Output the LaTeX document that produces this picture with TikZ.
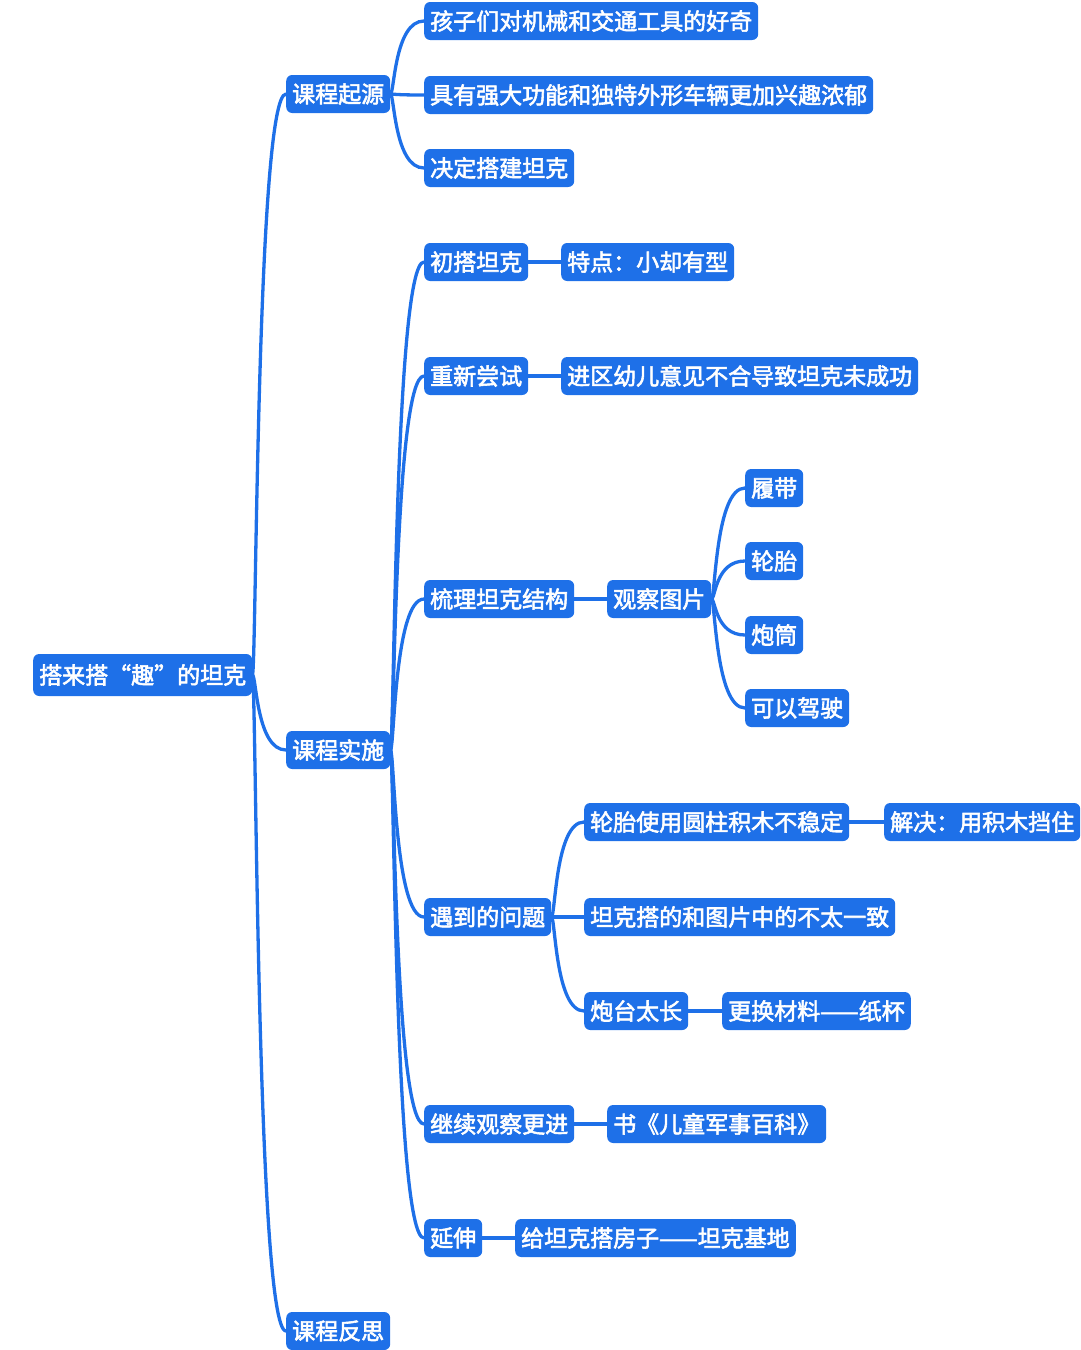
\documentclass[tikz,border=0pt]{standalone}
\usepackage{fontspec}
\usetikzlibrary{calc}
\newfontfamily\cjk[FakeBold=2.5]{Noto Sans CJK SC}
\definecolor{mapblue}{RGB}{30,112,232}
\tikzset{
  topic/.style={fill=mapblue, text=white, rounded corners=6pt, anchor=west,
    minimum height=38pt, inner xsep=6pt, inner ysep=0pt,
    font=\cjk\fontsize{23}{27}\selectfont},
  central/.style={topic, minimum height=42pt},
  link/.style={draw=mapblue, line width=3.3pt, line cap=round}
}
% curved connector from the right side of a parent to the left side of a child
\newcommand*{\branch}[2]{\draw[link] (#1.east) .. controls ($(#1.east)+(4pt,0)$)
  and ($(#1.east |- #2.west)+(4pt,0)$) .. (#2.west);}

\begin{document}
\begin{tikzpicture}[x=1pt,y=-1pt]
\useasboundingbox (0,0) rectangle (1080,1350);
% Central topic
\node[central] (tank) at (33,675) {搭来搭“趣”的坦克};
% Main branches
\node[topic] (origin) at (286,94) {课程起源};
\node[topic] (practice) at (286,750) {课程实施};
\node[topic] (reflect) at (286,1331) {课程反思};
% Origin of the course
\node[topic] (curious) at (424,21) {孩子们对机械和交通工具的好奇};
\node[topic] (power) at (424,95) {具有强大功能和独特外形车辆更加兴趣浓郁};
\node[topic] (decide) at (424,168) {决定搭建坦克};
% Steps of the course
\node[topic] (first) at (424,262) {初搭坦克};
\node[topic] (firstnote) at (561,262) {特点：小却有型};
\node[topic] (retry) at (424,376) {重新尝试};
\node[topic] (retrynote) at (561,376) {进区幼儿意见不合导致坦克未成功};
\node[topic] (structure) at (424,599) {梳理坦克结构};
\node[topic] (observe) at (607,599) {观察图片};
\node[topic] (track) at (745,488) {履带};
\node[topic] (tyre) at (745,561) {轮胎};
\node[topic] (barrel) at (745,635) {炮筒};
\node[topic] (drive) at (745,708) {可以驾驶};
\node[topic] (problem) at (424,917) {遇到的问题};
\node[topic] (wheel) at (584,822) {轮胎使用圆柱积木不稳定};
\node[topic] (wheelfix) at (884,822) {解决：用积木挡住};
\node[topic] (differ) at (584,917) {坦克搭的和图片中的不太一致};
\node[topic] (turret) at (584,1011) {炮台太长};
\node[topic] (cup) at (722,1011) {更换材料——纸杯};
\node[topic] (further) at (424,1124) {继续观察更进};
\node[topic] (book) at (607,1124) {书《儿童军事百科》};
\node[topic] (extend) at (424,1238) {延伸};
\node[topic] (base) at (515,1238) {给坦克搭房子——坦克基地};
% Connectors
\branch{tank}{origin}
\branch{tank}{practice}
\branch{tank}{reflect}
\branch{origin}{curious}
\branch{origin}{power}
\branch{origin}{decide}
\branch{practice}{first}
\branch{practice}{retry}
\branch{practice}{structure}
\branch{practice}{problem}
\branch{practice}{further}
\branch{practice}{extend}
\branch{first}{firstnote}
\branch{retry}{retrynote}
\branch{structure}{observe}
\branch{observe}{track}
\branch{observe}{tyre}
\branch{observe}{barrel}
\branch{observe}{drive}
\branch{problem}{wheel}
\branch{problem}{differ}
\branch{problem}{turret}
\branch{wheel}{wheelfix}
\branch{turret}{cup}
\branch{further}{book}
\branch{extend}{base}
\end{tikzpicture}
\end{document}
